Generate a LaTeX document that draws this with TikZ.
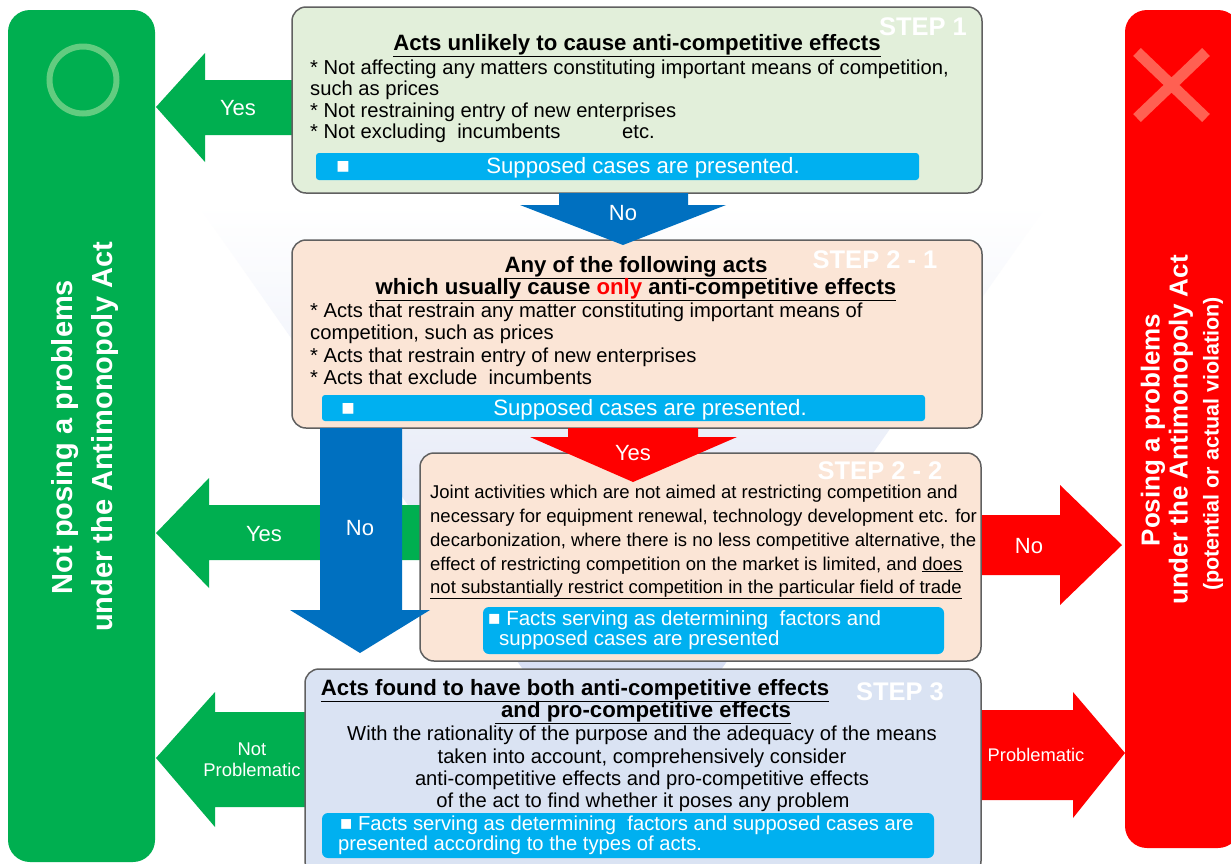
\documentclass[tikz,border=0pt]{standalone}
\usepackage{fontspec}
\setmainfont{Liberation Sans}
\definecolor{gpanel}{RGB}{0,175,80}
\definecolor{gring}{RGB}{98,204,128}
\definecolor{rpanel}{RGB}{255,0,0}
\definecolor{rx}{RGB}{255,96,82}
\definecolor{barblue}{RGB}{0,176,240}
\definecolor{arrblue}{RGB}{0,112,192}
\definecolor{fillA}{RGB}{226,239,218}
\definecolor{fillB}{RGB}{251,229,214}
\definecolor{fillC}{RGB}{218,227,243}
\definecolor{edgec}{RGB}{96,96,96}
\definecolor{funnelc}{RGB}{205,214,240}
\newcommand\fbody{\fontsize{20.2}{22}\selectfont}
\newcommand\fttl{\fontsize{22.2}{24}\selectfont\bfseries}
\newcommand\fbar{\fontsize{22.2}{24}\selectfont}
\newcommand\fsmall{\fontsize{18.5}{20}\selectfont}
\begin{document}
\begin{tikzpicture}[x=1pt,y=-1pt,
  stepbox/.style={draw=edgec,line width=1.5pt,rounded corners=14pt},
  barbox/.style={fill=barblue,rounded corners=3pt},
  tl/.style={inner sep=0,anchor=base west,font=\fbody},
  tc/.style={inner sep=0,anchor=base,font=\fbody},
  ts/.style={inner sep=0,anchor=base west,font=\fsmall},
  ttl/.style={inner sep=0,anchor=base,font=\fttl},
  bartxt/.style={inner sep=0,anchor=base,font=\fbar,text=white},
  barl/.style={inner sep=0,anchor=base west,text=white},
  steplbl/.style={inner sep=0,font=\fontsize{25.5}{27}\selectfont\bfseries,text=white},
  arrlbl/.style={inner sep=0,font=\fontsize{22}{24}\selectfont,text=white},
  arrlbls/.style={inner sep=0,font=\fontsize{18.4}{21}\selectfont,text=white,align=center}]
\useasboundingbox (0,0) rectangle (1231,863);
\fill[white] (0,0) rectangle (1231,863);
% background funnel
\shade[top color=white,bottom color=funnelc] (198,205) -- (1047,205) -- (622,811) -- cycle;

% side panels
\fill[gpanel,rounded corners=22pt] (8,10) rectangle (155,862);
\draw[gring,line width=6pt] (83,80) circle[radius=33.5];
\node[rotate=90,inner sep=0,align=center,text=white,font=\fontsize{29}{40}\selectfont\bfseries] (gtext) at (85,437) {Not posing a problems\\under the Antimonopoly Act};
\fill[rpanel,rounded corners=22pt] (1125,10) rectangle (1240,848);
\draw[rx,line width=11pt] (1137,52) -- (1206,118) (1206,52) -- (1137,118);
\node[rotate=90,inner sep=0,anchor=center,text=white,font=\fontsize{26}{28}\selectfont\bfseries] (rtext1) at (1153,430) {Posing a problems};
\node[rotate=90,inner sep=0,anchor=center,text=white,font=\fontsize{26}{28}\selectfont\bfseries] (rtext2) at (1181,430) {under the Antimonopoly Act};
\node[rotate=90,inner sep=0,anchor=center,text=white,font=\fontsize{21.5}{23}\selectfont\bfseries] (rtext3) at (1213,444) {(potential or actual violation)};

% side arrows
\fill[gpanel] (292,80) -- (205,80) -- (205,53) -- (156,107) -- (205,162) -- (205,135) -- (292,135) -- cycle;
\fill[gpanel] (420,505) -- (209,505) -- (209,478) -- (156,533) -- (209,588) -- (209,560) -- (420,560) -- cycle;
\fill[gpanel] (305,712) -- (215,712) -- (215,692) -- (156,758) -- (215,827) -- (215,807) -- (305,807) -- cycle;
\fill[rpanel] (975,515) -- (1060,515) -- (1060,485) -- (1122,545) -- (1060,605) -- (1060,575) -- (975,575) -- cycle;
\fill[rpanel] (975,710) -- (1073,710) -- (1073,692) -- (1125,753) -- (1073,818) -- (1073,800) -- (975,800) -- cycle;

% STEP 1
\draw[stepbox,fill=fillA] (292,7) rectangle (982,193);
\node[steplbl] (s1lbl) at (923,27) {STEP 1};
\node[ttl] (s1t) at (637,50) {\underline{Acts unlikely to cause anti-competitive effects}};
\node[tl] (s1a) at (310,74) {* Not affecting any matters constituting important means of competition,};
\node[tl] (s1b) at (310,95) {such as prices};
\node[tl] (s1c) at (310,117) {* Not restraining entry of new enterprises};
\node[tl] (s1d) at (310,138) {* Not excluding\ \ incumbents};
\node[tl] (s1e) at (622,138) {etc.};
\fill[barbox] (316,153) rectangle (919,180);
\node[bartxt] (s1sq) at (343,173) {■};
\node[bartxt] (s1bar) at (643,173) {Supposed cases are presented.};

% STEP 2-1
\draw[stepbox,fill=fillB] (292,240) rectangle (982,428);
\node[steplbl] (s21lbl) at (875,260) {STEP 2 - 1};
\node[ttl] (s21t1) at (636,272) {\underline{Any of the following acts}};
\node[ttl] (s21t2) at (636,294) {\underline{which usually cause \textcolor{red}{only} anti-competitive effects}};
\node[tl] (s21a) at (310,317) {* Acts that restrain any matter constituting important means of};
\node[tl] (s21b) at (310,339) {competition, such as prices};
\node[tl] (s21c) at (310,362) {* Acts that restrain entry of new enterprises};
\node[tl] (s21d) at (310,384) {* Acts that exclude\ \ incumbents};
\fill[barbox] (322,395) rectangle (925,421);
\node[bartxt] (s21sq) at (348,415) {■};
\node[bartxt] (s21bar) at (650,415) {Supposed cases are presented.};

% STEP 2-2
\draw[stepbox,fill=fillB] (420,453) rectangle (981,661);
\node[steplbl] (s22lbl) at (880,471) {STEP 2 - 2};
\node[ts] (s22a) at (430,498) {Joint activities which are not aimed at restricting competition and};
\node[ts] (s22b) at (430,522) {necessary for equipment renewal, technology development etc. for};
\node[ts] (s22c) at (430,546) {decarbonization, where there is no less competitive alternative, the};
\node[ts] (s22d) at (430,570) {effect of restricting competition on the market is limited, and \underline{does}};
\node[ts] (s22e) at (430,593) {\underline{not substantially restrict competition in the particular field of trade}};
\fill[barbox,rounded corners=6pt] (483,607) rectangle (944,654);
\node[barl,font=\fontsize{20.5}{22}\selectfont] (s22bar1) at (488,625) {■ Facts serving as determining\ \ factors and};
\node[barl,font=\fontsize{20.5}{22}\selectfont] (s22bar2) at (499,645) {supposed cases are presented};

% STEP 3
\draw[stepbox,fill=fillC] (305,669) rectangle (981,875);
\node[steplbl] (s3lbl) at (900,692) {STEP 3};
\node[ttl] (s3t1) at (575,695) {\underline{Acts found to have both anti-competitive effects}};
\node[ttl] (s3t2) at (643,717) {\underline{\ and pro-competitive effects}};
\node[tc] (s3a) at (642,740) {With the rationality of the purpose and the adequacy of the means};
\node[tc] (s3b) at (642,763) {taken into account, comprehensively consider};
\node[tc] (s3c) at (642,785) {anti-competitive effects and pro-competitive effects};
\node[tc] (s3d) at (643,807) {of the act to find whether it poses any problem};
\fill[barbox,rounded corners=6pt] (322,813) rectangle (934,858);
\node[barl,font=\fontsize{20.2}{22}\selectfont] (s3bar1) at (340,830.5) {■ Facts serving as determining\ \ factors and supposed cases are};
\node[barl,font=\fontsize{20.2}{22}\selectfont] (s3bar2) at (338,850) {presented according to the types of acts.};

% vertical arrows
\fill[arrblue] (559,193) -- (688,193) -- (688,205) -- (726,205) -- (623,245) -- (520,205) -- (559,205) -- cycle;
\fill[rpanel] (568,428) -- (698,428) -- (698,437) -- (737,437) -- (633,482) -- (530,437) -- (568,437) -- cycle;
\fill[arrblue] (320,428) -- (402,428) -- (402,610) -- (430,610) -- (360,653) -- (290,610) -- (320,610) -- cycle;

% arrow labels
\node[arrlbl] (lyes1) at (238,108) {Yes};
\node[arrlbl] (lno1) at (623,213) {No};
\node[arrlbl] (lyes2) at (633,453) {Yes};
\node[arrlbl] (lyes3) at (264,534) {Yes};
\node[arrlbl] (lno2) at (360,528) {No};
\node[arrlbl] (lno3) at (1029,546) {No};
\node[arrlbls] (lnp) at (252,760) {Not\\Problematic};
\node[inner sep=0,font=\fontsize{18.3}{20}\selectfont,text=white] (lprob) at (1036,755) {Problematic};
\end{tikzpicture}
\end{document}
